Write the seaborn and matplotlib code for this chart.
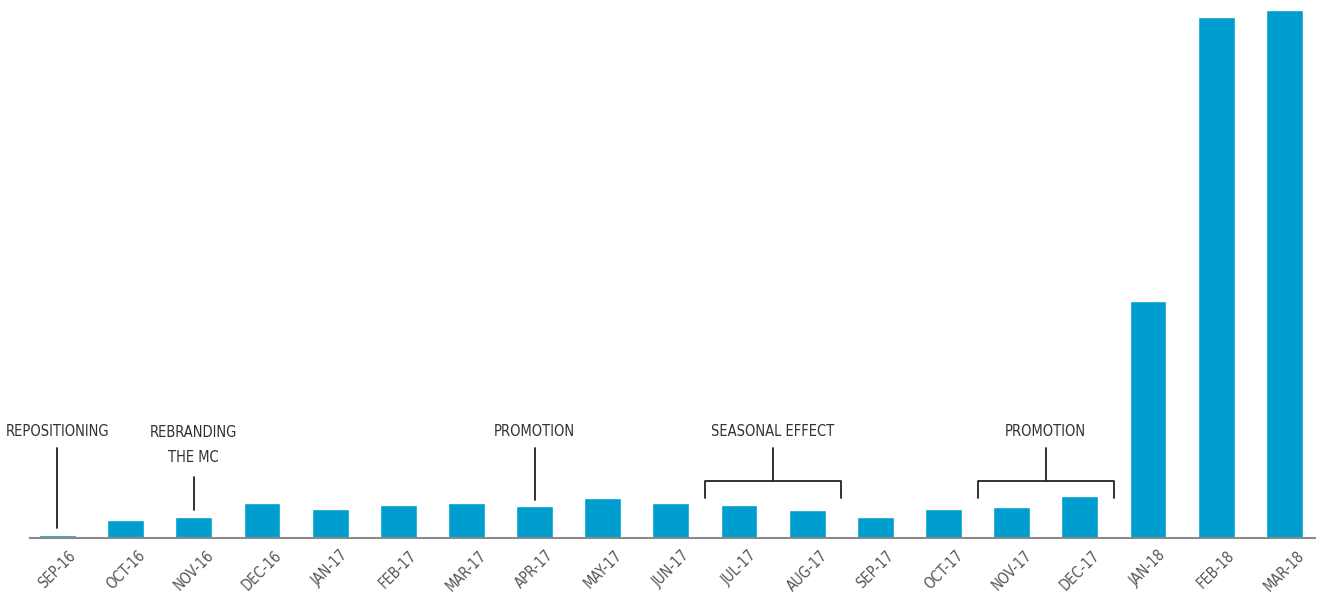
import numpy as np
import pandas as pd
import seaborn as sns
import matplotlib.pyplot as plt
from matplotlib import font_manager

months = ['SEP-16', 'OCT-16', 'NOV-16', 'DEC-16', 'JAN-17', 'FEB-17', 'MAR-17',
          'APR-17', 'MAY-17', 'JUN-17', 'JUL-17', 'AUG-17', 'SEP-17', 'OCT-17',
          'NOV-17', 'DEC-17', 'JAN-18', 'FEB-18', 'MAR-18']
values = [3, 18, 21, 35, 29, 33, 35, 32, 40, 35, 33, 28, 21, 29, 31, 42, 237, 521, 528]

# single-point annotations: (label, month index, line bottom)
notes = [('REPOSITIONING', 0, 10), ('REBRANDING\nTHE MC', 2, 28), ('PROMOTION', 7, 38)]
# bracket annotations: (label, first month, last month)
brackets = [('SEASONAL EFFECT', 10, 11), ('PROMOTION', 14, 15)]

sns.set_style('white')

# narrow look: use a condensed face if one is installed
cond = [f for f in font_manager.fontManager.ttflist
        if ('ondensed' in str(f.stretch) or 'Narrow' in f.name or 'Condensed' in f.name)
        and f.style == 'normal' and f.weight in (400, 'normal', 'regular')]
fname = cond[0].fname if cond else None

def fprop(size):
    if fname:
        return font_manager.FontProperties(fname=fname, size=size)
    return font_manager.FontProperties(family='DejaVu Sans', size=size)

df = pd.DataFrame({'month': months, 'value': values})

fig = plt.figure(figsize=(13.17, 5.96), dpi=100)
ax = fig.add_axes([30 / 1317, 58 / 596, 1285 / 1317, 538 / 596])
sns.barplot(data=df, x='month', y='value', color='#009ECE', saturation=1, width=0.54, ax=ax)

ax.set_xlim(-0.403, 18.45)
ax.set_ylim(0, 538)
ax.set_xlabel('')
ax.set_ylabel('')
ax.set_yticks([])
for s in ['top', 'right', 'left']:
    ax.spines[s].set_visible(False)
ax.spines['bottom'].set_color('#8a8a8a')
ax.spines['bottom'].set_linewidth(1.5)

ax.set_xticks(np.arange(len(months)))
ax.set_xticklabels(months, rotation=45, ha='center', va='top',
                   fontproperties=fprop(10.5), color='#555555')
ax.tick_params(axis='x', which='major', length=0, pad=7)
ax.set_xticks([-0.403] + [i - 0.5 for i in range(1, len(months))], minor=True)
ax.tick_params(axis='x', which='minor', length=8, width=1.5, color='#8a8a8a', direction='out')

txt_y = 106
for label, i, bottom in notes:
    top = 90 if '\n' not in label else 61
    ty = txt_y if '\n' not in label else txt_y - 13
    ax.text(i, ty, label, ha='center', va='center', fontproperties=fprop(10.5),
            color='#333333', linespacing=1.9)
    ax.plot([i, i], [bottom, top], color='#222222', lw=1.3)

for label, a, b in brackets:
    mid = (a + b) / 2
    x0, x1 = a - 0.5, b + 0.5
    ax.text(mid, txt_y, label, ha='center', va='center', fontproperties=fprop(10.5),
            color='#333333')
    ax.plot([mid, mid], [57, 90], color='#222222', lw=1.3)
    ax.plot([x0, x0, x1, x1], [40, 57, 57, 40], color='#222222', lw=1.3)

fig.savefig('out.png', dpi=100)
